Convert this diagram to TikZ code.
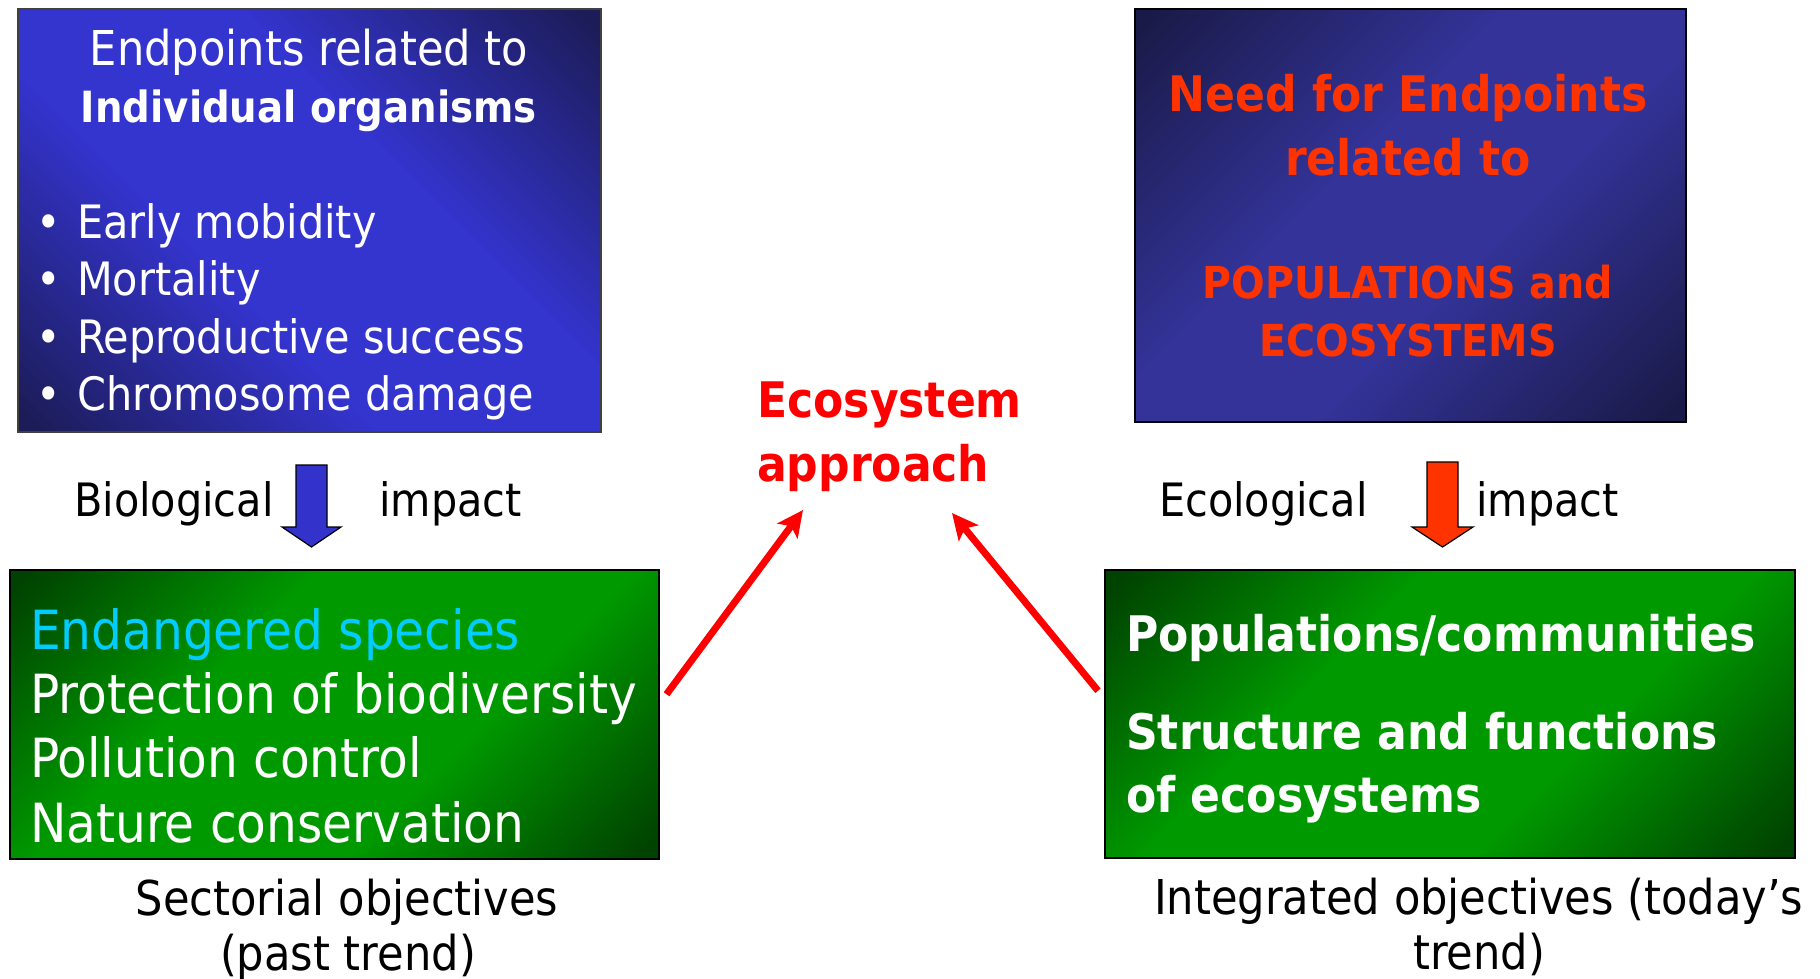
\documentclass[tikz,border=0pt]{standalone}
\usepackage{fontspec}
\setmainfont{DejaVu Sans Condensed}
\usetikzlibrary{arrows.meta}

\definecolor{bluelightA}{HTML}{3434CF}
\definecolor{bluedarkA}{HTML}{1C1C58}
\definecolor{bluelightB}{HTML}{333399}
\definecolor{bluedarkB}{HTML}{1A1A48}
\definecolor{greenlight}{HTML}{009900}
\definecolor{greendark}{HTML}{004200}
\definecolor{titlered}{HTML}{FF3300}
\definecolor{approachred}{HTML}{FF0000}
\definecolor{speciescyan}{HTML}{00CCFF}
\definecolor{arrowblue}{HTML}{3333CC}

% diagonal bands: dark corners, light middle
\pgfdeclarehorizontalshading{bandA}{100bp}{color(0bp)=(bluedarkA); color(16bp)=(bluedarkA); color(40bp)=(bluelightA); color(60bp)=(bluelightA); color(84bp)=(bluedarkA); color(100bp)=(bluedarkA)}
\pgfdeclarehorizontalshading{bandB}{100bp}{color(0bp)=(bluedarkB); color(16bp)=(bluedarkB); color(42bp)=(bluelightB); color(58bp)=(bluelightB); color(84bp)=(bluedarkB); color(100bp)=(bluedarkB)}
\pgfdeclarehorizontalshading{bandG}{100bp}{color(0bp)=(greendark); color(16bp)=(greendark); color(38bp)=(greenlight); color(62bp)=(greenlight); color(84bp)=(greendark); color(100bp)=(greendark)}

\newcommand\setfs[1]{\fontsize{#1}{1.2\dimexpr#1pt\relax}\selectfont}

% downward block arrow: axis x, top y, fill colour, half head width
\newcommand\downblock[4]{%
  \filldraw[fill=#3, draw=black, line width=1.2pt, line join=miter]
    (#1-15.5,#2) -- (#1+15.5,#2) -- (#1+15.5,527) -- (#1+#4,527) -- (#1,547)
    -- (#1-#4,527) -- (#1-15.5,527) -- cycle;}

\begin{document}
\begin{tikzpicture}[x=1pt,y=-1pt,
  panel/.style={draw=black, line width=1.5pt, inner sep=0pt, anchor=north west},
  txt/.style={inner sep=0pt},
  bullettxt/.style={txt, anchor=base west, white, font=\setfs{46}},
  greentxt/.style={txt, anchor=base west, white, font=\setfs{54}},
  ecotxt/.style={txt, anchor=base west, white, font=\setfs{49}\bfseries},
  needtxt/.style={txt, anchor=base, titlered, font=\bfseries},
  labeltxt/.style={txt, black, font=\setfs{47}},
  approach/.style={txt, anchor=base west, approachred, font=\setfs{49}\bfseries},
  connector/.style={approachred, line width=7pt,
    -{Stealth[length=26pt,width=25pt,inset=6pt]}}
]
\useasboundingbox (0,0) rectangle (1820,978);
\fill[white] (0,0) rectangle (1820,978);

% panels
\node[panel, shading=bandA, shading angle=45, draw=black!75,
      minimum width=583pt, minimum height=423pt] (indiv) at (17,8) {};
\node[panel, shading=bandB, shading angle=-45,
      minimum width=551pt, minimum height=413pt] (need) at (1134,8) {};
\node[panel, shading=bandG, shading angle=-45,
      minimum width=649pt, minimum height=289pt] (sect) at (9,569) {};
\node[panel, shading=bandG, shading angle=-45,
      minimum width=690pt, minimum height=288pt] (integ) at (1104,569) {};

% individual organisms panel
\node[txt, anchor=base, white, font=\setfs{48}] (indivA) at (309,65) {Endpoints related to};
\node[txt, anchor=base, white, font=\setfs{43}\bfseries] (indivB) at (309,122) {Individual organisms};
\node[bullettxt] (bulA) at (36,238) {\makebox[41pt][l]{•}Early mobidity};
\node[bullettxt] (bulB) at (36,295) {\makebox[41pt][l]{•}Mortality};
\node[bullettxt] (bulC) at (36,353) {\makebox[41pt][l]{•}Reproductive success};
\node[bullettxt] (bulD) at (36,410) {\makebox[41pt][l]{•}Chromosome damage};

% populations and ecosystems panel
\node[needtxt, font=\setfs{49}\bfseries] (needA) at (1408,111) {Need for Endpoints};
\node[needtxt, font=\setfs{49}\bfseries] (needB) at (1408,175) {related to};
\node[needtxt, font=\setfs{44}\bfseries] (needC) at (1408,298) {POPULATIONS and};
\node[needtxt, font=\setfs{44}\bfseries] (needD) at (1408,356) {ECOSYSTEMS};

% impact labels and block arrows
\node[labeltxt, anchor=base west, font=\setfs{46}] (bioA) at (74,516) {Biological};
\node[labeltxt, anchor=base west, font=\setfs{46}] (bioB) at (379,516) {impact};
\node[labeltxt, anchor=base west, font=\setfs{46}] (ecolA) at (1159,516) {Ecological};
\node[labeltxt, anchor=base west, font=\setfs{46}] (ecolB) at (1476,516) {impact};
\downblock{311.5}{465}{arrowblue}{29.5}
\downblock{1442.5}{462}{titlered}{30.5}

% sectorial objectives panel
\node[greentxt, speciescyan] (sectA) at (30,649) {Endangered species};
\node[greentxt] (sectB) at (30,713) {Protection of biodiversity};
\node[greentxt] (sectC) at (30,777) {Pollution control};
\node[greentxt] (sectD) at (30,842) {Nature conservation};

% integrated objectives panel
\node[ecotxt] (integA) at (1126,651) {Populations/communities};
\node[ecotxt] (integB) at (1126,749) {Structure and functions};
\node[ecotxt] (integC) at (1126,812) {of ecosystems};

% captions
\node[labeltxt, anchor=base, font=\setfs{48}] (capA) at (347,915) {Sectorial objectives};
\node[labeltxt, anchor=base, font=\setfs{48}] (capB) at (348,970) {(past trend)};
\node[labeltxt, anchor=base west, font=\setfs{48}] (capC) at (1154,914) {Integrated objectives (today’s};
\node[labeltxt, anchor=base, font=\setfs{48}] (capD) at (1479,969) {trend)};

% ecosystem approach
\node[approach] (ecoA) at (757,417) {Ecosystem};
\node[approach] (ecoB) at (757,481) {approach};

% connectors towards the ecosystem approach
\coordinate (sectOut) at ([shift={(7,-20)}]sect.east);
\coordinate (integOut) at ([shift={(-6,-23)}]integ.west);
\coordinate (ecoInL) at ([shift={(46,29)}]ecoB.base west);
\coordinate (ecoInR) at ([shift={(195,32)}]ecoB.base west);
\draw[connector] (sectOut) -- (ecoInL);
\draw[connector] (integOut) -- (ecoInR);
\end{tikzpicture}
\end{document}
